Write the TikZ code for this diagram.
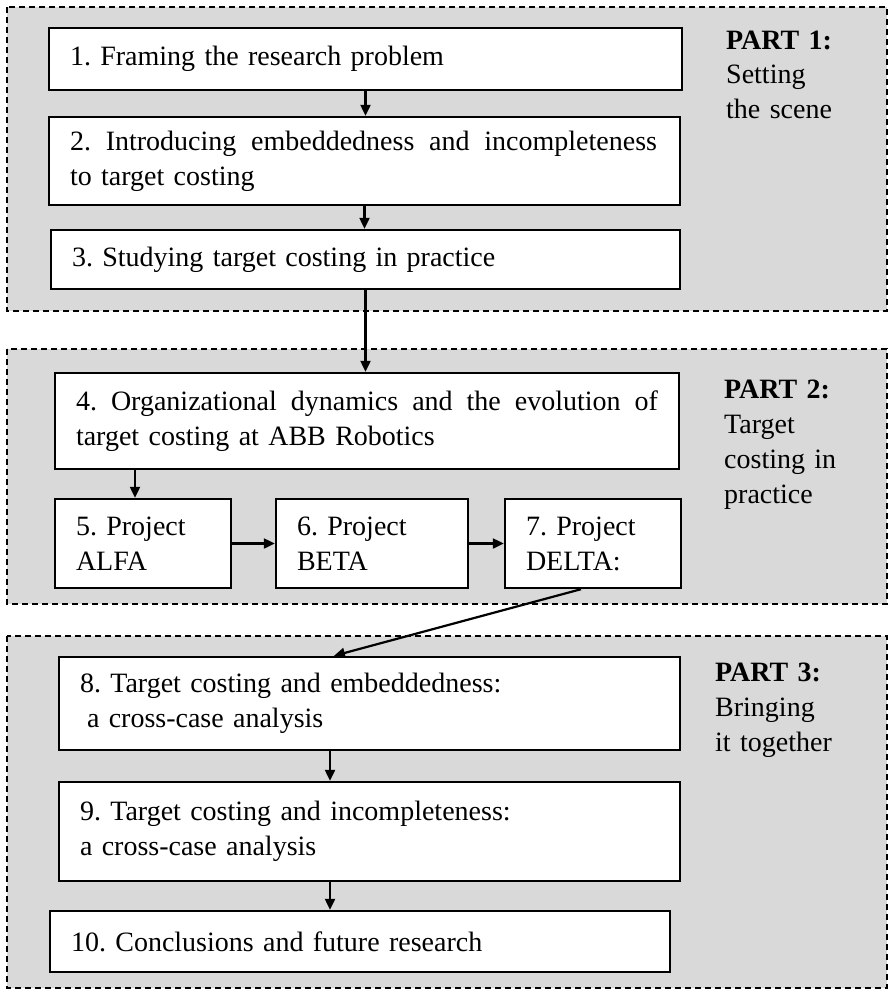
\documentclass[tikz,border=0pt]{standalone}
\usepackage{fontspec}
\setmainfont{Liberation Serif}
\usetikzlibrary{arrows.meta}
\definecolor{panelgray}{RGB}{217,217,217}
\frenchspacing
% a line set to a given width, its words spread apart
\newcommand{\spreadline}[2]{\hbox to #1{#2}}
\begin{document}
\begin{tikzpicture}[x=1pt,y=-1pt,
  txt/.style={font=\fontsize{28}{35}\selectfont},
  panel/.style={draw, fill=panelgray, line width=1.5pt, dash pattern=on 6pt off 4pt},
  box/.style={draw, fill=white, line width=2.4pt, inner xsep=21pt, inner ysep=0pt, align=left, txt},
  arr/.style={line width=2.2pt, -{Triangle[length=11pt,width=10pt]}},
  partlabel/.style={txt, anchor=base west, inner sep=0pt, text width=160pt, align=left}]
\useasboundingbox (0,0) rectangle (889,990);

% the three parts
\draw[panel] (7,7) rectangle (887,311);
\draw[panel] (7,349) rectangle (887,604);
\draw[panel] (7,636) rectangle (887,988);

% chapters
\node[box, text width=591pt, minimum height=62pt] (b1) at (365.5,59) {1. Framing the research problem};
\node[box, text width=589pt, minimum height=88pt] (b2) at (364.5,161)
  {\spreadline{587pt}{2.\hfill Introducing\hfill embeddedness\hfill and\hfill incompleteness}\\to target costing};
\node[box, text width=587pt, minimum height=59pt] (b3) at (365.5,259.5) {3. Studying target costing in practice};
\node[box, text width=582pt, minimum height=96pt] (b4) at (367,421)
  {\spreadline{582pt}{4.\hfill Organizational\hfill dynamics\hfill and\hfill the\hfill evolution\hfill of}\\target costing at ABB Robotics};
\node[box, text width=134pt, minimum height=89pt] (b5) at (143,543.5) {5. Project\\ALFA};
\node[box, text width=150pt, minimum height=89pt] (b6) at (372,543.5) {6. Project\\BETA};
\node[box, text width=134pt, minimum height=89pt] (b7) at (593,543.5) {7. Project\\DELTA:};
\node[box, text width=579pt, minimum height=93pt] (b8) at (369.5,703.5)
  {8. Target costing and embeddedness:\\\hspace*{7pt}a cross-case analysis};
\node[box, text width=579pt, minimum height=99pt] (b9) at (369.5,831.5)
  {9. Target costing and incompleteness:\\a cross-case analysis};
\node[box, text width=578pt, minimum height=61pt] (b10) at (360,941.5) {10. Conclusions and future research};

% part headings
\node[partlabel] (p1) at (726,49) {\textbf{PART 1:}\\Setting\\the scene};
\node[partlabel] (p2) at (724,398) {\textbf{PART 2:}\\Target\\costing in\\practice};
\node[partlabel] (p3) at (715,681) {\textbf{PART 3:}\\Bringing\\it together};

% reading order
\draw[arr] (b1.south) -- (b1.south |- b2.north);
\draw[arr] (b2.south) -- (b2.south |- b3.north);
\draw[arr] (b3.south) -- (b3.south |- b4.north);
\draw[arr] ([xshift=-8pt]b5.north |- b4.south) -- ([xshift=-8pt]b5.north);
\draw[arr] (b5.east) -- (b6.west);
\draw[arr] (b6.east) -- (b7.west);
\draw[arr] ([xshift=-12pt]b7.south) -- ([xshift=-35.5pt]b8.north);
\draw[arr] ([xshift=-39.5pt]b8.south) -- ([xshift=-39.5pt]b9.north);
\draw[arr] ([xshift=-39.5pt]b9.south) -- ([xshift=-39.5pt]b9.south |- b10.north);
\end{tikzpicture}
\end{document}
